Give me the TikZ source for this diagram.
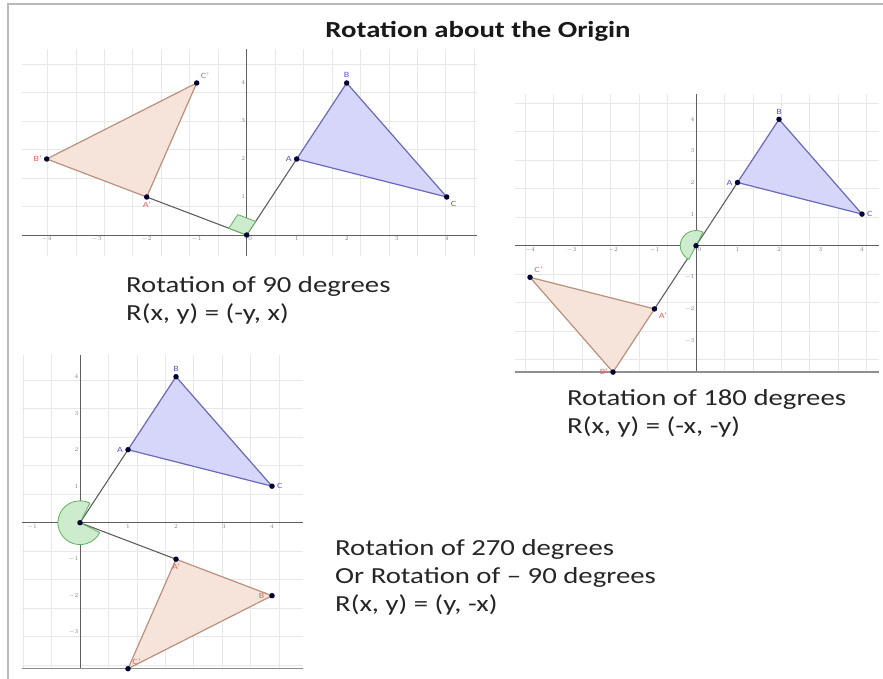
\documentclass[tikz,border=0pt]{standalone}
\usepackage{fontspec}
\setmainfont{Carlito}[FakeStretch=1.25]

\definecolor{triblue}{RGB}{214,214,250}
\definecolor{edgeblue}{RGB}{105,105,185}
\definecolor{trired}{RGB}{246,228,218}
\definecolor{edgered}{RGB}{185,145,125}
\definecolor{lblblue}{RGB}{90,90,210}
\definecolor{lblred}{RGB}{230,100,100}
\definecolor{gridgray}{RGB}{232,232,232}
\definecolor{axisgray}{RGB}{95,95,95}
\definecolor{angfill}{RGB}{205,236,205}
\definecolor{angedge}{RGB}{100,175,100}

\begin{document}
\begin{tikzpicture}[
    x=1pt, y=-1pt,
    frame/.style={draw=gray!55, line width=1.2pt},
    gridline/.style={draw=gridgray, line width=0.8pt},
    axis/.style={draw=axisgray, line width=1pt},
    edge/.style={draw=axisgray!70, line width=1.4pt},
    tick/.style={font=\fontsize{6}{7}\selectfont, text=gray, inner sep=1.5pt},
    orgtri/.style={fill=triblue, draw=edgeblue, line width=1.2pt, line join=round},
    imgtri/.style={fill=trired, draw=edgered, line width=1.2pt, line join=round},
    ray/.style={draw=axisgray, line width=1.1pt},
    angmark/.style={fill=angfill, draw=angedge, line width=0.8pt},
    dot/.style={circle, fill=black!80!blue, inner sep=0pt, minimum size=5.5pt},
    lb/.style={font=\fontsize{8}{9}\selectfont, text=lblblue, inner sep=2pt},
    lr/.style={font=\fontsize{8}{9}\selectfont, text=lblred, inner sep=2pt},
    heading/.style={font=\bfseries\fontsize{23}{27}\selectfont, text=black!90, inner sep=0pt},
    caption/.style={align=left, anchor=north west, inner sep=0pt, font=\fontsize{23}{28}\selectfont, text=black!85}
]
\useasboundingbox (0,0) rectangle (883,679);
\fill[white] (0,0) rectangle (883,679);

% Slide frame and title
\draw[frame] (8,679) -- (8,4) -- (883,4);
\node[heading] (title) at (478,31) {Rotation about the Origin};

% Rotation of 90 degrees
\begin{scope}[shift={(246.7,235)}, x=50pt, y=38pt]
    \draw[gridline] (-4.5,-0.55) grid (4.6,4.9);
    \draw[axis] (-4.5,0) -- (4.6,0);
    \draw[axis] (0,-0.55) -- (0,4.9);
    \foreach \i in {-4,-3,-2,-1,1,2,3,4}
        \node[tick, below] (p1x\i) at (\i,0) {$\i$};
    \foreach \i in {1,2,3,4}
        \node[tick, left] (p1y\i) at (0,\i) {$\i$};
    \node[tick, below right] (p1o) at (0,0) {$0$};

    \coordinate (O1) at (0,0);
    \coordinate (A1) at (1,2);
    \coordinate (B1) at (2,4);
    \coordinate (C1) at (4,1);
    \coordinate (A1r) at (-2,1);
    \coordinate (B1r) at (-4,2);
    \coordinate (C1r) at (-1,4);

    \filldraw[orgtri] (A1) -- (B1) -- (C1) -- cycle;
    \filldraw[imgtri] (A1r) -- (B1r) -- (C1r) -- cycle;
    \draw[ray] (A1r) -- (O1) -- (A1);
    \filldraw[angmark] (O1) -- (0.179,0.358) -- (-0.179,0.537) -- (-0.358,0.179) -- cycle;

    \node[dot] (o1) at (O1) {};
    \node[dot, label={[lb]left:A}] (a1) at (A1) {};
    \node[dot, label={[lb]above:B}] (b1) at (B1) {};
    \node[dot, label={[lb]below right:C}] (c1) at (C1) {};
    \node[dot, label={[lr]below:A'}] (a1r) at (A1r) {};
    \node[dot, label={[lr]left:B'}] (b1r) at (B1r) {};
    \node[dot, label={[lr]above right:C'}] (c1r) at (C1r) {};
\end{scope}

% Rotation of 180 degrees
\begin{scope}[shift={(696,245.7)}, x=41.5pt, y=31.6pt]
    \draw[gridline] (-4.35,-4) grid (4.4,4.8);
    \draw[axis] (-4.35,0) -- (4.4,0);
    \draw[axis] (0,-4) -- (0,4.8);
    \draw[edge] (-4.35,-4) -- (4.4,-4);
    \foreach \i in {-4,-3,-2,-1,1,2,3,4}
        \node[tick, below] (p2x\i) at (\i,0) {$\i$};
    \foreach \i in {-3,-2,-1,1,2,3,4}
        \node[tick, left] (p2y\i) at (0,\i) {$\i$};
    \node[tick, below right] (p2o) at (0,0) {$0$};

    \coordinate (O2) at (0,0);
    \coordinate (A2) at (1,2);
    \coordinate (B2) at (2,4);
    \coordinate (C2) at (4,1);
    \coordinate (A2r) at (-1,-2);
    \coordinate (B2r) at (-2,-4);
    \coordinate (C2r) at (-4,-1);

    \filldraw[orgtri] (A2) -- (B2) -- (C2) -- cycle;
    \filldraw[imgtri] (A2r) -- (B2r) -- (C2r) -- cycle;
    \draw[ray] (A2r) -- (O2) -- (A2);
    \filldraw[angmark] (O2) -- (0.170,0.429) arc[start angle=63.43, end angle=243.43, x radius=0.38, y radius=0.48] -- cycle;

    \node[dot] (o2) at (O2) {};
    \node[dot, label={[lb]left:A}] (a2) at (A2) {};
    \node[dot, label={[lb]above:B}] (b2) at (B2) {};
    \node[dot, label={[lb]right:C}] (c2) at (C2) {};
    \node[dot, label={[lr]below right:A'}] (a2r) at (A2r) {};
    \node[dot, label={[lr]left:B'}] (b2r) at (B2r) {};
    \node[dot, label={[lr]above right:C'}] (c2r) at (C2r) {};
\end{scope}

% Rotation of 270 degrees
\begin{scope}[shift={(80,522.7)}, x=48pt, y=36.5pt]
    \draw[gridline] (-1.2,-4) grid (4.65,4.6);
    \draw[axis] (-1.2,0) -- (4.65,0);
    \draw[axis] (0,-4) -- (0,4.6);
    \draw[edge] (-1.2,-4) -- (4.65,-4);
    \foreach \i in {-1,1,2,3,4}
        \node[tick, below] (p3x\i) at (\i,0) {$\i$};
    \foreach \i in {-3,-2,-1,1,2,3,4}
        \node[tick, left] (p3y\i) at (0,\i) {$\i$};

    \coordinate (O3) at (0,0);
    \coordinate (A3) at (1,2);
    \coordinate (B3) at (2,4);
    \coordinate (C3) at (4,1);
    \coordinate (A3r) at (2,-1);
    \coordinate (B3r) at (4,-2);
    \coordinate (C3r) at (1,-4);

    \filldraw[orgtri] (A3) -- (B3) -- (C3) -- cycle;
    \filldraw[imgtri] (A3r) -- (B3r) -- (C3r) -- cycle;
    \draw[ray] (A3r) -- (O3) -- (A3);
    \filldraw[angmark] (O3) -- (0.206,0.537) arc[start angle=63.43, end angle=333.43, x radius=0.46, y radius=0.6] -- cycle;

    \node[dot] (o3) at (O3) {};
    \node[dot, label={[lb]left:A}] (a3) at (A3) {};
    \node[dot, label={[lb]above:B}] (b3) at (B3) {};
    \node[dot, label={[lb]right:C}] (c3) at (C3) {};
    \node[dot, label={[lr]below:A'}] (a3r) at (A3r) {};
    \node[dot, label={[lr]left:B'}] (b3r) at (B3r) {};
    \node[dot, label={[lr]above right:C'}] (c3r) at (C3r) {};
\end{scope}

% Captions
\node[caption] (cap90) at (126,276) {Rotation of 90 degrees\\R(x, y) = (-y, x)};
\node[caption] (cap180) at (567,389) {Rotation of 180 degrees\\R(x, y) = (-x, -y)};
\node[caption] (cap270) at (335,539) {Rotation of 270 degrees\\Or Rotation of -- 90 degrees\\R(x, y) = (y, -x)};

\end{tikzpicture}
\end{document}
